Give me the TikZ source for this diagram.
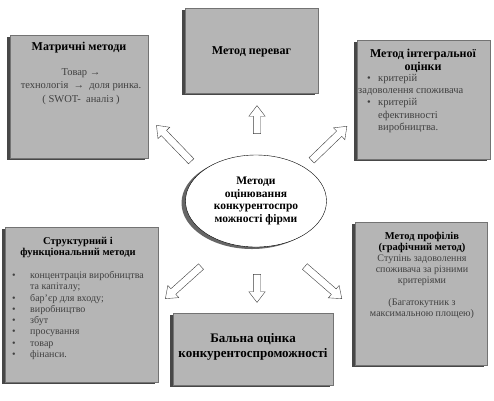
\documentclass[tikz,border=0pt]{standalone}
\usepackage{fontspec}
\setmainfont{Liberation Serif}
\usetikzlibrary{shapes.arrows,shapes.geometric,shadows}

\newcommand{\blt}[1][18pt]{\makebox[#1][l]{\textbullet}}

\begin{document}
\begin{tikzpicture}[x=1pt,y=-1pt,
	mbox/.style={draw=black!55, fill=black!29,
		drop shadow={shadow xshift=-3pt, shadow yshift=-2pt, fill=black!80, opacity=.9}},
	ttl/.style={font=\fontsize{12}{13.5}\selectfont\bfseries, align=center, inner sep=0pt},
	txt/.style={font=\fontsize{10.5}{13.5}\selectfont, text=black!75, align=center, inner sep=0pt},
	blockarr/.style={single arrow, draw=black!75, fill=white, inner sep=3.5pt,
		single arrow head extend=4.5pt, single arrow tip angle=75, minimum height=#1}]
\useasboundingbox (0,0) rectangle (494,400);

% boxes
\node[mbox, minimum width=138pt, minimum height=123pt] (matr) at (79,96.5) {};
\node[mbox, minimum width=133pt, minimum height=85pt] (pere) at (251.5,50.5) {};
\node[mbox, minimum width=133pt, minimum height=119pt] (integ) at (423.5,99.5) {};
\node[mbox, minimum width=153pt, minimum height=155pt] (struct) at (81.5,304.5) {};
\node[mbox, minimum width=132pt, minimum height=143pt] (prof) at (421,293.5) {};
\node[mbox, minimum width=160pt, minimum height=72pt] (bal) at (253,349) {};

% centre
\node[ellipse, draw, fill=white, minimum width=141pt, minimum height=92pt, inner sep=0pt,
	drop shadow={shadow xshift=-4pt, shadow yshift=-2pt, fill=black!75, opacity=.8},
	font=\fontsize{11.5}{12.7}\selectfont\bfseries, align=center] (cen) at (256,201)
	{Методи\\оцінювання\\конкурентоспро\\можності фірми};

% texts
\node[ttl] (matrT) at (79,48) {Матричні методи};
\node[txt] (matrB) at (81,86.5) {Товар →\\технологія \ → \ доля ринка.\\( SWOT- \ аналіз )};
\node[ttl] (pereT) at (251.5,52) {Метод переваг};
\node[ttl] (integT) at (423,61) {Метод інтегральної\\оцінки};
\node[txt, anchor=west, align=left, font=\fontsize{10.5}{12.3}\selectfont] (integB) at (358,103.5)
	{\hspace*{9pt}\blt[11pt]критерій\\задоволення споживача\\\hspace*{9pt}\blt[11pt]критерій\\
	\hspace*{20pt}ефективності\\\hspace*{20pt}виробництва.};
\node[ttl, font=\fontsize{10.5}{11.5}\selectfont\bfseries] (structT) at (78,247.5)
	{Структурний і\\функціональний методи};
\node[txt, anchor=west, align=left, font=\fontsize{10}{11.3}\selectfont] (structB) at (12,315.5)
	{\blt концентрація виробництва\\\hspace*{18pt}та капіталу;\\\blt бар'єр для входу;\\
	\blt виробництво\\\blt збут\\\blt просування\\\blt товар\\\blt фінанси.};
\node[ttl, font=\fontsize{10.5}{11}\selectfont\bfseries] (profT) at (422,242.5)
	{Метод профілів\\(графічний метод)};
\node[txt, font=\fontsize{10}{11}\selectfont] (profB) at (422,286.5)
	{Ступінь задоволення\\споживача за різними\\критеріями\\[11pt]
	(Багатокутник з\\максимальною площею)};
\node[ttl, font=\fontsize{13}{14.5}\selectfont\bfseries] (balT) at (253,347)
	{Бальна оцінка\\конкурентоспроможності};

% arrows
\node[blockarr=28pt, rotate=90] (aN) at (257,122) {};
\node[blockarr=50pt, rotate=134] (aNW) at (175.5,145) {};
\node[blockarr=49pt, rotate=44] (aNE) at (327.5,145) {};
\node[blockarr=48pt, rotate=222] (aSW) at (185,281) {};
\node[blockarr=28pt, rotate=270] (aS) at (257,286) {};
\node[blockarr=49pt, rotate=319] (aSE) at (321.5,281) {};
\end{tikzpicture}
\end{document}
